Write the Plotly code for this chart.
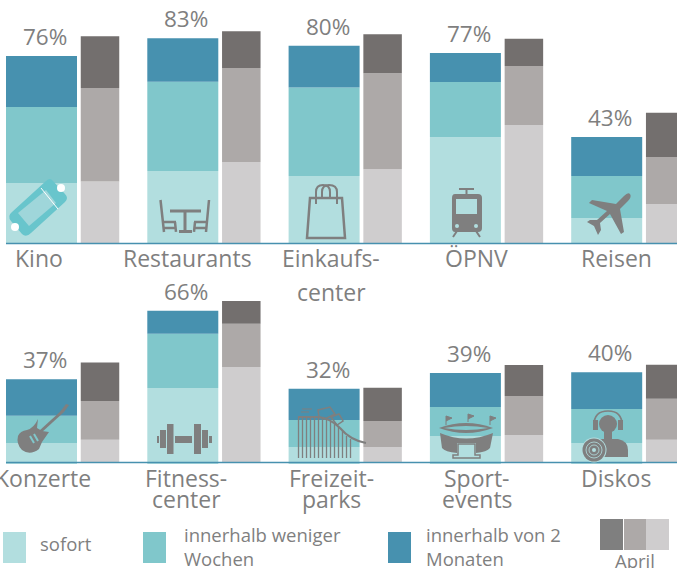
import re
import plotly.graph_objects as go

W, H = 677, 568
FONT = "Open Sans"
TXT = "#7f7f7f"
ICON = "#7f7f7f"

# ---- data -------------------------------------------------------------
cats_top = ["Kino", "Restaurants", "Einkaufscenter", "ÖPNV", "Reisen"]
pct_top = [76, 83, 80, 77, 43]
now_top = [24.4, 29.3, 27.2, 43.0, 10.2]
weeks_top = [30.9, 36.2, 36.0, 22.4, 17.0]
months_top = [20.7, 17.7, 17.0, 11.8, 15.9]
april_now_top = [25.0, 32.9, 30.0, 48.0, 15.9]
april_weeks_top = [38.0, 38.2, 39.0, 24.0, 19.1]
april_months_top = [21.0, 15.0, 15.9, 11.0, 17.9]

cats_bot = ["Konzerte", "Fitnesscenter", "Freizeitparks", "Sportevents", "Diskos"]
pct_bot = [37, 66, 32, 39, 40]
now_bot = [8.3, 32.5, 6.6, 11.4, 8.3]
weeks_bot = [12.0, 23.8, 11.8, 12.7, 14.9]
months_bot = [16.0, 10.0, 13.7, 14.9, 16.2]
april_now_bot = [9.8, 41.7, 6.6, 11.8, 9.8]
april_weeks_bot = [17.0, 18.9, 11.4, 17.1, 17.9]
april_months_bot = [16.8, 10.0, 14.6, 13.6, 14.9]

label_lines_top = [["Kino"], ["Restaurants"], ["Einkaufs-", "center"], ["ÖPNV"], ["Reisen"]]
label_lines_bot = [["Konzerte"], ["Fitness-", "center"], ["Freizeit-", "parks"], ["Sport-", "events"], ["Diskos"]]
label_center_px = [[39, 187, 331, 476, 616], [43, 186, 331, 477, 616]]

series_names = ["sofort", "innerhalb weniger Wochen", "innerhalb von 2 Monaten"]
teal = ["#b2dedf", "#80c7cb", "#4791af"]
gray = ["#cfcdce", "#ada9a8", "#736f6e"]

# ---- geometry ----------------------------------------------------------
PITCH = 141.3
X0 = 41.5
xr = [-X0 / PITCH, (W - X0) / PITCH]
TW, GW = 71 / PITCH, 38.5 / PITCH
GOFF = 58.5 / PITCH
TOP_BASE, TOP_SCALE = 243, 2.46
BOT_BASE, BOT_SCALE, BOT_TOP, BOT_END = 462, 2.28, 290, 470

fig = go.Figure()


def add_stack(series, colors, names, xpos, width, xa, ya, base0=0.0):
    cum = [0.0] * len(xpos)
    for k, (vals, col, nm) in enumerate(zip(series, colors, names)):
        bases = [c if (k or not base0) else base0 for c in cum]
        heights = [v if (k or not base0) else v - base0 for v in vals]
        fig.add_trace(go.Bar(x=xpos, y=heights, base=bases, width=width, name=nm,
                             marker=dict(color=col, line=dict(width=0)),
                             xaxis=xa, yaxis=ya, showlegend=False))
        cum = [c + v for c, v in zip(cum, vals)]
    return cum


idx = list(range(5))
gidx = [i + GOFF for i in idx]
totals_top = add_stack([now_top, weeks_top, months_top], teal, series_names, idx, TW, "x", "y")
add_stack([april_now_top, april_weeks_top, april_months_top], gray,
          ["April " + s for s in series_names], gidx, GW, "x", "y")
totals_bot = add_stack([now_bot, weeks_bot, months_bot], teal, series_names, idx, TW, "x2", "y2", base0=-0.9)
add_stack([april_now_bot, april_weeks_bot, april_months_bot], gray,
          ["April " + s for s in series_names], gidx, GW, "x2", "y2")


# ---- pixel helpers for decoration --------------------------------------
def pth(s):
    nums = iter(range(10 ** 6))

    def rep(m):
        v = float(m.group(0))
        return f"{v / W:.5f}" if next(nums) % 2 == 0 else f"{1 - v / H:.5f}"

    return re.sub(r"-?\d+\.?\d*", rep, s)


shapes = []


def path(s, fill=None, line=None, lw=0):
    shapes.append(dict(type="path", path=pth(s), xref="paper", yref="paper", layer="above",
                       fillcolor=fill or "rgba(0,0,0,0)",
                       line=dict(color=line or "rgba(0,0,0,0)", width=lw)))


def rect(x0, y0, x1, y1, fill):
    path(f"M{x0} {y0} L{x1} {y0} L{x1} {y1} L{x0} {y1} Z", fill=fill)


def circ(cx, cy, r, fill=None, line=None, lw=0):
    shapes.append(dict(type="circle", xref="paper", yref="paper", layer="above",
                       x0=(cx - r) / W, x1=(cx + r) / W, y0=1 - (cy + r) / H, y1=1 - (cy - r) / H,
                       fillcolor=fill or "rgba(0,0,0,0)",
                       line=dict(color=line or "rgba(0,0,0,0)", width=lw)))


# axis lines
path("M6 243.5 L677 243.5", line="#4791af", lw=1.5)
path("M6 462.5 L677 462.5", line="#4791af", lw=1.5)

# ticket
path("M53 181 L65 194 Q69 198 65 202 L31 233 Q26 238 22 234 L11 221 Q7 216 12 212 L46 181 Q50 177 53 181 Z",
     fill="#68c5cc")
path("M46 190 L56 203 L29 226 L18 213 Z", fill="#9fd6da")
path("M41 188 L58 209", line="white", lw=1)
circ(61, 188, 4, fill="white")
circ(15, 227, 4, fill="white")

# table and chairs
path("M160.5 200 L164 232 M163 222 L176 222 M175 222 L176 232 M164 228 L175 228", line=ICON, lw=2.5)
path("M209 200 L206 232 M207 222 L194 222 M195 222 L194 232 M206 228 L195 228", line=ICON, lw=2.5)
path("M170 211 L201 211 M185 211 L185 231 M179 231.5 L192 231.5", line=ICON, lw=3)

# bag
path("M310 198 L342 198 L345 238 L307 238 Z", line=ICON, lw=2.5)
path("M316 204 L316 192 Q316 185 323 185 Q330 185 330 192 L330 198", line=ICON, lw=2)
path("M322 197 L322 192 Q322 185 329 185 Q337 185 337 192 L337 204", line=ICON, lw=2)

# tram
path("M459 189 L474 189 M466.5 189 L466.5 195 M457 231 L453 237 M476 231 L480 237", line=ICON, lw=2)
path("M455 194 L478 194 Q482 194 482 198 L482 228 Q482 232 478 232 L455 232 Q452 232 452 228 L452 198 Q452 194 455 194 Z", fill=ICON)
rect(456, 199, 477, 214, "#b2dedf")
circ(457, 226, 2, fill="#b2dedf")
circ(476, 226, 2, fill="#b2dedf")

# plane
path("M630 194 Q632 197 628 201 L620 209 L624 232 L621 234 L610 214 L600 223 L601 230 L598 235 "
     "L594 226 L587 222 L590 220 L597 220 L607 211 L589 203 L592 200 L616 204 L624 196 Q628 192 630 194 Z", fill=ICON)

# guitar
path("M40 432 L63 411", line=ICON, lw=3)
path("M60 412 L66 404 L69 405 L64 412 Z", fill=ICON)
path("M38 419 L37 428 L42 431 L49 432 L42 442 L39 449 Q30 456 22 450 Q16 444 18 436 Q20 431 27 430 Q34 428 38 419 Z", fill=ICON)
path("M30 436 L34 443 M34 434 L38 441", line="#80c7cb", lw=2)

# dumbbell
rect(175, 436, 192, 443, ICON)
rect(167, 424, 173.5, 454, ICON)
rect(194, 424, 201, 454, ICON)
rect(160, 430, 166, 448, ICON)
rect(202, 430, 208, 448, ICON)
rect(157, 436, 159, 443, ICON)
rect(209, 436, 212, 443, ICON)

# roller coaster
path("M298 417 L318 417 Q330 418 340 428 Q350 440 366 443", line=ICON, lw=2)
path("M298.5 417 L298.5 458 M302.5 417 L302.5 458 M306.5 417 L306.5 458 M310.5 417 L310.5 458 "
     "M314.5 417 L314.5 458 M318.5 417 L318.5 458 M322.5 418 L322.5 458 M326.5 420 L326.5 458 "
     "M330.5 422 L330.5 458 M334.5 424 L334.5 458 M338.5 427 L338.5 458 M342.5 431 L342.5 458 "
     "M346.5 436 L346.5 458 M350.5 439 L350.5 458", line=ICON, lw=1.3)
path("M318 410 L330 407 L335 414 L325 419 L319 417 Z", line=ICON, lw=1.5)
path("M331 417 L339 414 L343 421 L337 425 Z", line=ICON, lw=1.5)
path("M302 409 L312 409 M301 412 L309 412", line=ICON, lw=1)

# stadium
path("M446 425 L446 416 L452 418 L446 421", fill=ICON, line=ICON, lw=1)
path("M468 422 L468 414 L474 416 L468 419", fill=ICON, line=ICON, lw=1)
path("M490 425 L490 416 L496 418 L490 421", fill=ICON, line=ICON, lw=1)
path("M439 428 Q466 418 493 428 Q466 438 439 428 Z", fill=ICON)
path("M444 428 Q466 424 488 428 Q466 432 444 428 Z", fill="#80c7cb")
path("M440 433 Q466 444 493 433 L490 448 Q487 452 476 453 L476 443 L457 443 L457 453 Q445 452 442 448 Z", fill=ICON)
path("M458 444 L475 444 L475 455 L480 455 L480 458 L453 458 L453 455 L458 455 Z", line=ICON, lw=1.5)
rect(459, 447, 474, 453, "#b2dedf")

# DJ
path("M594 425 Q594 411 608 411 Q622 411 622 425", line=ICON, lw=1.7)
circ(608, 424, 9, fill=ICON)
rect(604, 431, 612, 440, ICON)
rect(593, 420, 598, 430, ICON)
rect(618, 420, 623, 430, ICON)
path("M600 439 L618 439 Q628 441 628 450 L628 457 L600 457 Z", fill=ICON)
circ(594, 450, 12.5, fill="#b2dedf")
circ(594, 450, 11.5, fill=ICON)
circ(594, 450, 8, line="#b2dedf", lw=0.8)
circ(594, 450, 5, line="#b2dedf", lw=0.8)
circ(594, 450, 2, fill="#b2dedf")

# legend swatches
rect(3, 532, 26, 563, teal[0])
rect(143, 532, 166, 563, teal[1])
rect(388, 532, 411, 563, teal[2])
rect(600, 519, 623, 550, "#7f7f7f")
rect(624, 519, 646, 550, gray[1])
rect(646, 519, 669, 550, gray[0])

# ---- text --------------------------------------------------------------
ann = []


def txt(x, y, s, size, anchor="center"):
    ann.append(dict(x=x / W, y=1 - y / H, xref="paper", yref="paper", text=s, showarrow=False,
                    xanchor=anchor, yanchor="middle",
                    font=dict(family=FONT, size=size, color=TXT)))


for i in idx:
    ann.append(dict(x=i + 3.5 / PITCH, y=totals_top[i], xref="x", yref="y", text=f"{pct_top[i]}%", showarrow=False,
                    xanchor="center", yanchor="bottom", yshift=2,
                    font=dict(family=FONT, size=22.5, color=TXT)))
    ann.append(dict(x=i + 3.5 / PITCH, y=totals_bot[i], xref="x2", yref="y2", text=f"{pct_bot[i]}%", showarrow=False,
                    xanchor="center", yanchor="bottom", yshift=2,
                    font=dict(family=FONT, size=22.5, color=TXT)))
    for j, line in enumerate(label_lines_top[i]):
        txt(label_center_px[0][i], 258 + 34 * j, line, 23)
    for j, line in enumerate(label_lines_bot[i]):
        txt(label_center_px[1][i], 478 + 21 * j, line, 23)

txt(38, 543, "sofort", 18.5, "left")
txt(182, 534, "innerhalb weniger", 18.5, "left")
txt(182, 558, "Wochen", 18.5, "left")
txt(424, 534, "innerhalb von 2", 18.5, "left")
txt(424, 558, "Monaten", 18.5, "left")
txt(635, 560, "April", 18.5)

hidden = dict(visible=False, fixedrange=True)
fig.update_layout(
    width=W, height=H, margin=dict(l=0, r=0, t=0, b=0, pad=0), autosize=False,
    paper_bgcolor="white", plot_bgcolor="rgba(0,0,0,0)", barmode="overlay", showlegend=False,
    font=dict(family=FONT, color=TXT),
    xaxis=dict(range=xr, domain=[0, 1], anchor="y", **hidden),
    xaxis2=dict(range=xr, domain=[0, 1], anchor="y2", **hidden),
    yaxis=dict(range=[0, TOP_BASE / TOP_SCALE], domain=[1 - TOP_BASE / H, 1], anchor="x", **hidden),
    yaxis2=dict(range=[(BOT_BASE - BOT_END) / BOT_SCALE, (BOT_BASE - BOT_TOP) / BOT_SCALE],
                domain=[1 - BOT_END / H, 1 - BOT_TOP / H], anchor="x2", **hidden),
    shapes=shapes, annotations=ann,
)
fig.write_html("out.html", config=dict(displayModeBar=False),
               post_script="document.body.style.margin='0';document.body.style.overflow='hidden';")
